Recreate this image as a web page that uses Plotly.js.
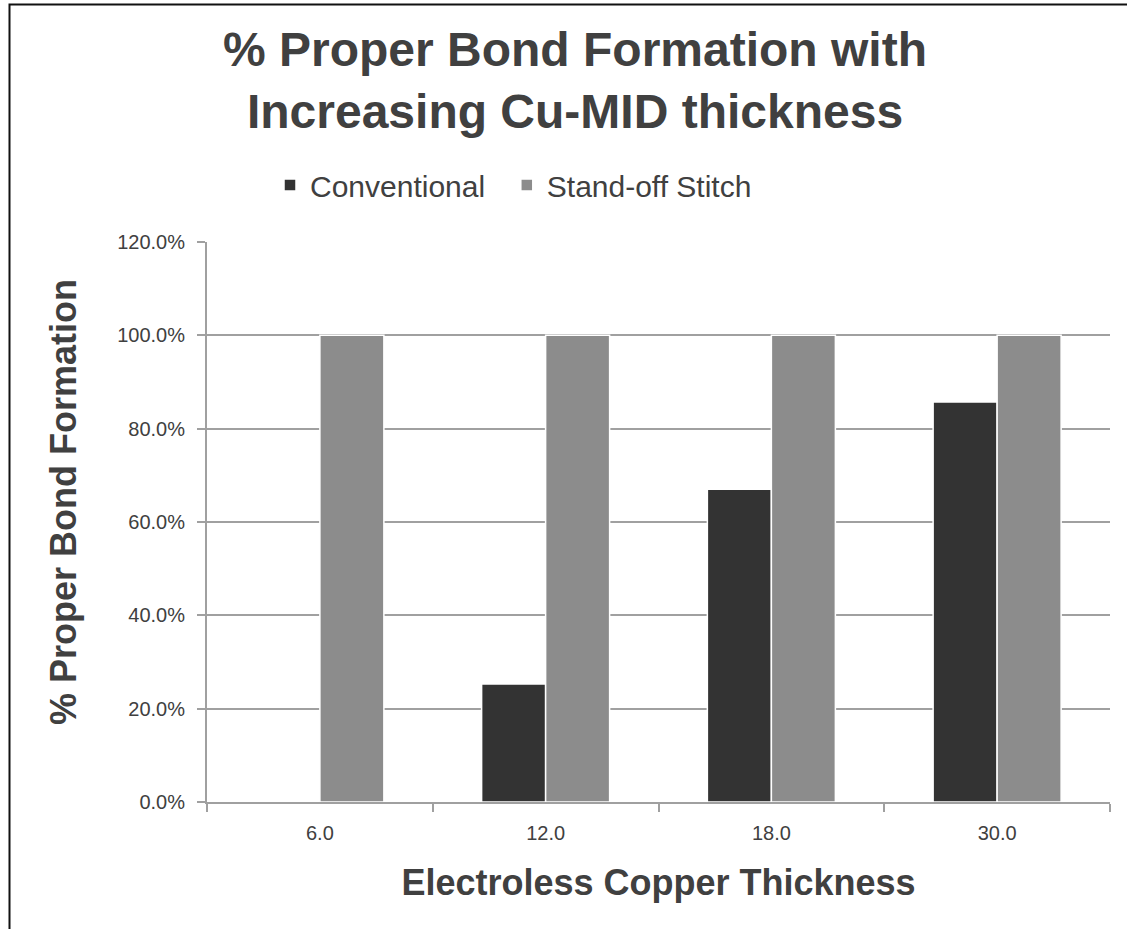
<!DOCTYPE html>
<html>
<head>
<meta charset="utf-8">
<script src="https://cdn.plot.ly/plotly-3.0.1.min.js"></script>
<style>
  html, body { margin: 0; padding: 0; background: #ffffff; }
  #chart { width: 1127px; height: 929px; }
</style>
</head>
<body>
<div id="chart"></div>
<script>
// ---- Data ----
const categories = ["6.0", "12.0", "18.0", "30.0"];
const conventional = [0, 0.253, 0.67, 0.857];
const standoffStitch = [1.0, 1.0, 1.0, 1.0];
const yTickValues = [0, 0.2, 0.4, 0.6, 0.8, 1.0, 1.2];
const yTickLabels = ["0.0%", "20.0%", "40.0%", "60.0%", "80.0%", "100.0%", "120.0%"];
const seriesNames = ["Conventional", "Stand-off Stitch"];

const FONT = '"Liberation Sans", Arial, Helvetica, sans-serif';
const TEXT = '#404040';
const GRID = '#a0a0a0';

// plot area in pixels: left 207, right 1110, top 242, bottom 802
const L = 207, R = 17, T = 242, B = 127;
const W = 1127, H = 929;
const PW = W - L - R, PH = H - T - B;
const px = x => (x - L) / PW;
const py = y => (H - B - y) / PH;

const traces = [
  {
    type: 'bar',
    name: seriesNames[0] + '\u00a0\u00a0',
    x: categories,
    y: conventional,
    marker: { color: '#333333', line: { color: '#ffffff', width: 1.5 } },
    hovertemplate: '%{x}: %{y:.1%}<extra>' + seriesNames[0] + '</extra>'
  },
  {
    type: 'bar',
    name: seriesNames[1],
    x: categories,
    y: standoffStitch,
    marker: { color: '#8c8c8c', line: { color: '#ffffff', width: 1.5 } },
    hovertemplate: '%{x}: %{y:.1%}<extra>' + seriesNames[1] + '</extra>'
  }
];

const layout = {
  width: W,
  height: H,
  paper_bgcolor: '#ffffff',
  plot_bgcolor: '#ffffff',
  margin: { l: L, r: R, t: T, b: B, autoexpand: false },
  font: { family: FONT, color: TEXT, size: 20 },
  title: {
    text: '<b>% Proper Bond Formation with<br>Increasing Cu-MID thickness</b>',
    font: { family: FONT, size: 48, color: TEXT },
    x: 575 / W,
    xref: 'container',
    xanchor: 'center',
    y: 1 - 66 / H,
    yref: 'container',
    yanchor: 'top'
  },
  barmode: 'group',
  bargap: 0.433,
  bargroupgap: 0,
  showlegend: true,
  legend: {
    orientation: 'h',
    xref: 'container',
    yref: 'container',
    x: 270 / W,
    xanchor: 'left',
    y: 1 - 185 / H,
    yanchor: 'middle',
    font: { family: FONT, size: 30, color: TEXT },
    bgcolor: 'rgba(0,0,0,0)',
    traceorder: 'normal'
  },
  xaxis: {
    type: 'category',
    showline: true,
    linecolor: GRID,
    linewidth: 2,
    ticks: 'outside',
    tickson: 'boundaries',
    ticklen: 8,
    tickwidth: 2,
    tickcolor: GRID,
    showgrid: false,
    tickfont: { family: FONT, size: 20, color: TEXT },
    ticklabelstandoff: 12,
    title: {
      text: '<b>Electroless Copper Thickness</b>',
      font: { family: FONT, size: 36, color: TEXT },
      standoff: 27
    },
    automargin: false
  },
  yaxis: {
    range: [0, 1.2],
    tickvals: yTickValues,
    ticktext: yTickLabels,
    showline: true,
    linecolor: GRID,
    linewidth: 2,
    ticks: 'outside',
    ticklen: 8,
    tickwidth: 2,
    tickcolor: GRID,
    showgrid: true,
    gridcolor: GRID,
    gridwidth: 2,
    zeroline: false,
    tickfont: { family: FONT, size: 20, color: TEXT },
    ticklabelstandoff: 8,
    title: {
      text: '<b>&nbsp;&nbsp;&nbsp;&nbsp;% Proper Bond Formation</b>',
      font: { family: FONT, size: 36, color: TEXT },
      standoff: 30
    },
    automargin: false
  },
  shapes: [
    {
      type: 'path',
      xref: 'paper',
      yref: 'paper',
      path: 'M ' + px(9.5) + ',' + py(940) + ' L ' + px(9.5) + ',' + py(4.5) + ' L ' + px(1140) + ',' + py(4.5),
      line: { color: '#111111', width: 2 },
      layer: 'above'
    }
  ]
};

Plotly.newPlot('chart', traces, layout, { displayModeBar: false });
</script>
</body>
</html>
